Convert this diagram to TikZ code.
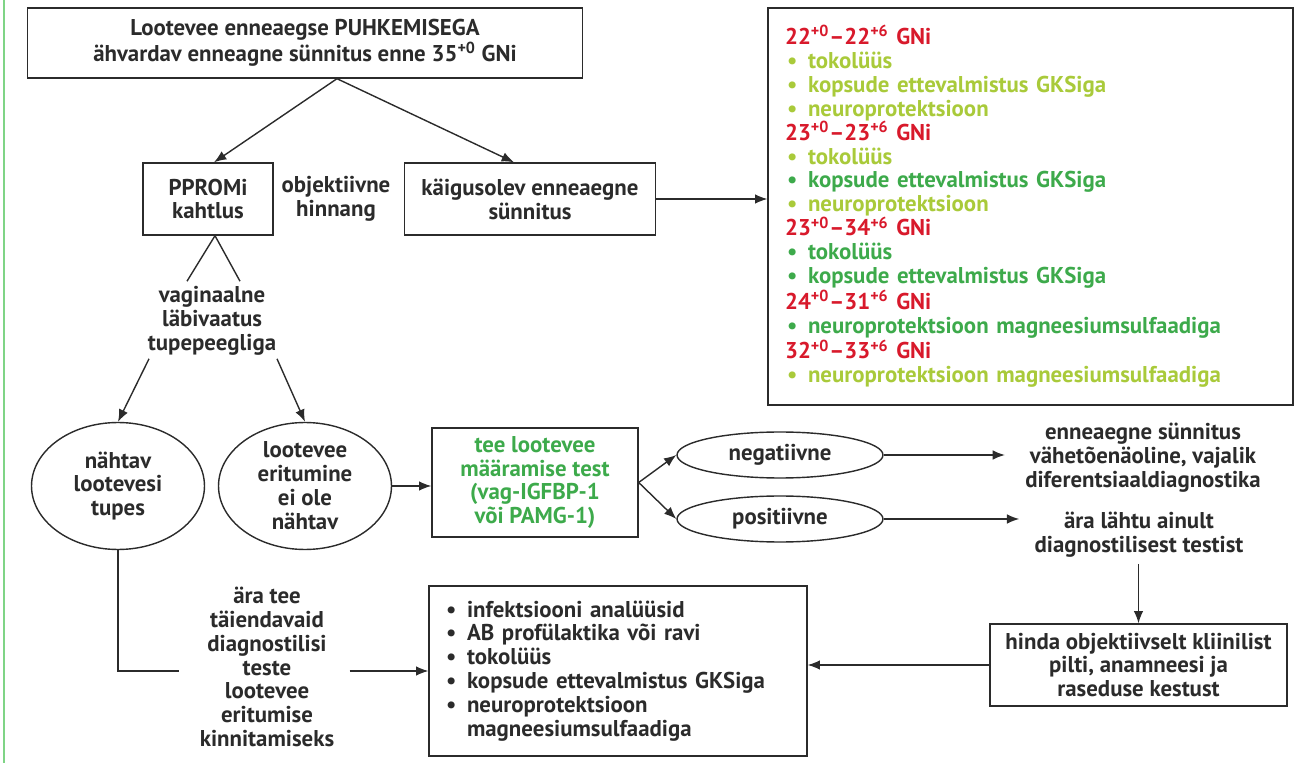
\documentclass[tikz,border=0pt]{standalone}
\usepackage{fontspec}
\setmainfont{PT Sans}
\usetikzlibrary{positioning,shapes.geometric,arrows.meta}

\definecolor{gnired}{HTML}{D8192B}
\definecolor{palegreen}{HTML}{A9CA3A}
\definecolor{deepgreen}{HTML}{3DAA4B}
\definecolor{edgegreen}{HTML}{7FD486}
\definecolor{framegray}{HTML}{2B2B2B}

\newcommand{\wk}[2]{{\color{gnired}#1\textsuperscript{+0}–#2\textsuperscript{+6} GNi}}
\newcommand{\bul}[2]{{\color{#1}\hspace*{0.04cm}\makebox[0.42cm][l]{\textbullet}#2}}

\tikzset{
  every node/.style={font=\bfseries\fontsize{13pt}{13.6pt}\selectfont, text=framegray},
  box/.style={draw=framegray, line width=0.8pt, align=center, inner sep=0pt},
  oval/.style={ellipse, draw=framegray, line width=0.8pt, align=center, inner sep=0pt},
  note/.style={align=center, inner sep=0pt},
  link/.style={->, line width=0.8pt, draw=framegray},
  line/.style={line width=0.8pt, draw=framegray},
}

\begin{document}
\begin{tikzpicture}[x=0.02cm, y=-0.02cm, >={Latex[length=7pt,width=5.5pt]}]
  \useasboundingbox (0,0) rectangle (1316,763);
  \draw[edgegreen, line width=1.2pt] (4,0) -- (4,763);

  \node[box, minimum width=11.1cm, minimum height=1.4cm] (threat) at (305,43)
      {Lootevee enneaegse PUHKEMISEGA\\ähvardav enneagne sünnitus enne 35\textsuperscript{+0} GNi};
  \node[box, minimum width=2.6cm, minimum height=1.44cm] (pprom) at (208,199) {PPROMi\\kahtlus};
  \node[note] (judge) at (336,199) {objektiivne\\hinnang};
  \node[box, minimum width=5.02cm, minimum height=1.44cm] (labour) at (530,199)
      {käigusolev enneaegne\\sünnitus};

  \node[box, align=left, text width=9.82cm, inner xsep=0.34cm, minimum height=7.94cm] (plan) at (1030.5,206.5)
      {\wk{22}{22}\\
       \bul{palegreen}{tokolüüs}\\
       \bul{palegreen}{kopsude ettevalmistus GKSiga}\\
       \bul{palegreen}{neuroprotektsioon}\\
       \wk{23}{23}\\
       \bul{palegreen}{tokolüüs}\\
       \bul{deepgreen}{kopsude ettevalmistus GKSiga}\\
       \bul{palegreen}{neuroprotektsioon}\\
       \wk{23}{34}\\
       \bul{deepgreen}{tokolüüs}\\
       \bul{deepgreen}{kopsude ettevalmistus GKSiga}\\
       \wk{24}{31}\\
       \bul{deepgreen}{neuroprotektsioon magneesiumsulfaadiga}\\
       \wk{32}{33}\\
       \bul{palegreen}{neuroprotektsioon magneesiumsulfaadiga}};

  \draw[link] ([xshift=0.64cm]threat.south) -- ([xshift=0.12cm]pprom.north);
  \draw[link] ([xshift=0.64cm]threat.south) -- ([xshift=-0.32cm]labour.north);
  \draw[link] (labour.east) -- (labour.east -| plan.west);

  \node[note] (vag) at (212,321) {vaginaalne\\läbivaatus\\tupepeegliga};
  \draw[line] ([xshift=0.14cm]pprom.south) -- ([xshift=-0.5cm,yshift=0.1cm]vag.north);
  \draw[line] ([xshift=0.14cm]pprom.south) -- ([xshift=0.56cm,yshift=0.1cm]vag.north);

  \node[oval, minimum width=3.46cm, minimum height=2.54cm] (seen) at (118,486) {nähtav\\lootevesi\\tupes};
  \node[oval, minimum width=3.46cm, minimum height=2.54cm] (unseen) at (305,486)
      {lootevee\\eritumine\\ei ole\\nähtav};
  \draw[link] ([xshift=-1.26cm,yshift=-0.06cm]vag.south) -- (seen.north);
  \draw[link] ([xshift=1.3cm,yshift=-0.06cm]vag.south) -- (unseen.north);

  \node[box, minimum width=4.12cm, minimum height=2.18cm, text=deepgreen] (test) at (535,482.5)
      {tee lootevee\\määramise test\\(vag-IGFBP-1\\või PAMG-1)};
  \draw[link] (unseen.east) -- (unseen.east -| test.west);

  \node[oval, minimum width=4.12cm, minimum height=0.92cm] (neg) at (780,455) {negatiivne};
  \node[oval, minimum width=4.12cm, minimum height=0.92cm] (pos) at (780,519) {positiivne};
  \draw[link] (test.east) -- (neg.west);
  \draw[link] (test.east) -- (pos.west);

  \node[note] (unlikely) at (1143,458)
      {enneaegne sünnitus\\vähetõenäoline, vajalik\\diferentsiaaldiagnostika};
  \node[note] (caution) at (1139,535) {ära lähtu ainult\\diagnostilisest testist};
  \draw[link, shorten >=0.4cm] (neg.east) -- (neg.east -| unlikely.west);
  \draw[link, shorten >=0.3cm] (pos.east) -- (pos.east -| caution.west);

  \node[box, minimum width=5.94cm, minimum height=1.64cm] (assess) at (1138.5,665)
      {hinda objektiivselt kliinilist\\pilti, anamneesi ja\\raseduse kestust};
  \draw[link, shorten <=0.12cm] (caution.south -| assess.north) -- (assess.north);

  \node[box, align=left, text width=6.96cm, inner xsep=0.3cm, minimum height=3.4cm] (care) at (618,671)
      {\bul{framegray}{infektsiooni analüüsid}\\
       \bul{framegray}{AB profülaktika või ravi}\\
       \bul{framegray}{tokolüüs}\\
       \bul{framegray}{kopsude ettevalmistus GKSiga}\\
       \bul{framegray}{neuroprotektsioon}\\
       \hspace*{0.46cm}magneesiumsulfaadiga};
  \draw[link] (assess.west) -- (assess.west -| care.east);

  \node[note] (notest) at (267,667)
      {ära tee\\täiendavaid\\diagnostilisi\\teste\\lootevee\\eritumise\\kinnitamiseks};
  \draw[line] (seen.south) |- ([xshift=-0.4cm]notest.west |- care.west);
  \draw[link] ([xshift=0.3cm]notest.east |- care.west) -- (care.west);
\end{tikzpicture}
\end{document}
